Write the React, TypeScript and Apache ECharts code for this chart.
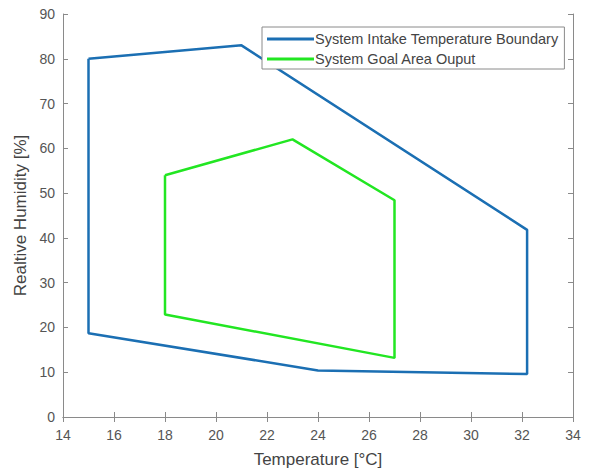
import React, { useEffect, useRef } from "react";
import * as echarts from "echarts";

const intakeName = "System Intake Temperature Boundary";
const goalName = "System Goal Area Ouput";

const intakeTemp = [15, 21, 32.2, 32.2, 24, 15, 15];
const intakeHum = [80, 83, 41.8, 9.6, 10.4, 18.7, 80];

const goalTemp = [18, 23, 27, 27, 18, 18];
const goalHum = [54, 62, 48.4, 13.2, 22.9, 54];

const xTicksMin = 14;
const xTicksMax = 34;
const yTicksMin = 0;
const yTicksMax = 90;

const pairs = (xs: number[], ys: number[]) => xs.map((x, i) => [x, ys[i]]);

export default function App() {
  const ref = useRef<HTMLDivElement>(null);
  useEffect(() => {
    if (!ref.current) return;
    const chart = echarts.init(ref.current, undefined, { renderer: "svg" });
    const axisColor = "#8a8a8a";
    const labelColor = "#555555";
    const font = "Liberation Sans, Arial, sans-serif";
    const baseX = {
      type: "value" as const,
      min: xTicksMin,
      max: xTicksMax,
      interval: 2,
      axisLine: { show: true, lineStyle: { color: axisColor, width: 1 } },
      axisTick: { show: true, inside: true, length: 5, lineStyle: { color: axisColor } },
      splitLine: { show: false },
    };
    const baseY = {
      type: "value" as const,
      min: yTicksMin,
      max: yTicksMax,
      interval: 10,
      axisLine: { show: true, lineStyle: { color: axisColor, width: 1 } },
      axisTick: { show: true, inside: true, length: 5, lineStyle: { color: axisColor } },
      splitLine: { show: false },
    };
    chart.setOption({
      animation: false,
      backgroundColor: "#ffffff",
      grid: { left: 63, right: 23, top: 14, bottom: 54, containLabel: false, outerBoundsMode: "none" },
      legend: {
        orient: "vertical",
        left: 262,
        top: 27,
        backgroundColor: "#ffffff",
        borderColor: "#8a8a8a",
        borderWidth: 1,
        padding: [4, 6, 2, 5],
        itemGap: 4,
        itemWidth: 47,
        itemHeight: 3,
        icon: "rect",
        data: [intakeName, goalName],
        textStyle: { fontSize: 14.5, lineHeight: 16, color: "#444444", fontFamily: font, padding: [0, 0, 0, -4] },
      },
      xAxis: [
        {
          ...baseX,
          position: "bottom",
          name: "Temperature [\u00B0C]",
          nameLocation: "middle",
          nameGap: 34,
          nameTextStyle: { fontSize: 17, color: "#444444", fontFamily: font },
          axisLabel: { fontSize: 14, color: labelColor, fontFamily: font, margin: 11 },
        },
        { ...baseX, position: "top", axisLabel: { show: false } },
      ],
      yAxis: [
        {
          ...baseY,
          position: "left",
          name: "Realtive Humidity [%]",
          nameLocation: "middle",
          nameGap: 31,
          nameTextStyle: { fontSize: 17, color: "#444444", fontFamily: font },
          axisLabel: { fontSize: 14, color: labelColor, fontFamily: font, margin: 8 },
        },
        { ...baseY, position: "right", axisLabel: { show: false } },
      ],
      series: [
        {
          name: intakeName,
          type: "line",
          xAxisIndex: 0,
          yAxisIndex: 0,
          data: pairs(intakeTemp, intakeHum),
          symbol: "none",
          lineStyle: { color: "#1b6fb3", width: 2.5 },
          itemStyle: { color: "#1b6fb3" },
        },
        {
          name: goalName,
          type: "line",
          xAxisIndex: 0,
          yAxisIndex: 0,
          data: pairs(goalTemp, goalHum),
          symbol: "none",
          lineStyle: { color: "#22e622", width: 2.5 },
          itemStyle: { color: "#22e622" },
        },
      ],
    });
    return () => chart.dispose();
  }, []);
  return <div ref={ref} style={{ width: 596, height: 471, position: "absolute", left: 0, top: 0 }} />;
}
